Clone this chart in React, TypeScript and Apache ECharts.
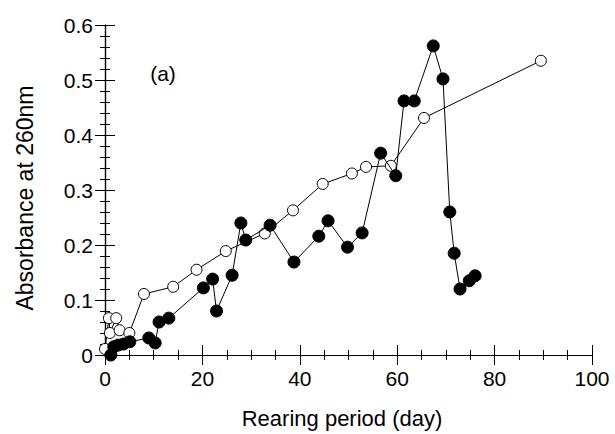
import React, { useEffect, useRef } from "react";
import * as echarts from "echarts";

// Open circles (day, absorbance)
const openDays = [0, 0.8, 1, 2.3, 3, 5, 8, 14, 18.8, 24.8, 32.8, 38.6, 44.7, 50.7, 53.6, 58.7, 65.5, 89.5];
const openVals = [0.011, 0.067, 0.04, 0.067, 0.045, 0.04, 0.111, 0.124, 0.155, 0.189, 0.221, 0.263, 0.311, 0.33, 0.342, 0.344, 0.431, 0.535];

// Filled circles (day, absorbance)
const filledDays = [1.2, 1.8, 2.7, 3.8, 5.1, 9, 10.3, 11.1, 13.1, 20.2, 22.1, 22.9, 26.1, 27.9, 28.9, 33.9, 38.8, 43.9, 45.8, 49.8, 52.8, 56.6, 59.7, 61.4, 63.5, 67.4, 69.4, 70.8, 71.7, 72.9, 74.8, 76];
const filledVals = [0.0, 0.015, 0.018, 0.02, 0.024, 0.031, 0.022, 0.06, 0.067, 0.122, 0.138, 0.08, 0.145, 0.24, 0.209, 0.236, 0.169, 0.216, 0.244, 0.196, 0.222, 0.367, 0.326, 0.462, 0.462, 0.562, 0.502, 0.26, 0.185, 0.12, 0.135, 0.144];

const xTicks = [0, 20, 40, 60, 80, 100];
const yTicks = [0, 0.1, 0.2, 0.3, 0.4, 0.5, 0.6];

const FONT = "'Liberation Sans', Arial, sans-serif";

export default function App() {
  const ref = useRef<HTMLDivElement>(null);
  useEffect(() => {
    if (!ref.current) return;
    const chart = echarts.init(ref.current, null, { renderer: "svg" });
    const axisLine = { show: true, lineStyle: { color: "#000", width: 1.2 } };
    const tick = { show: true, inside: true, length: 10, lineStyle: { color: "#000", width: 1 } };
    const minor = { show: true, length: 5, lineStyle: { color: "#000", width: 1 } };
    chart.setOption({
      animation: false,
      backgroundColor: "#fff",
      grid: { left: 105, right: 23, top: 25, bottom: 79 },
      xAxis: [
        {
          type: "value",
          min: 0,
          max: 100,
          interval: 20,
          position: "bottom",
          axisLine,
          axisTick: tick,
          minorTick: { ...minor, splitNumber: 4 },
          splitLine: { show: false },
          axisLabel: {
            color: "#000",
            fontSize: 21,
            fontFamily: FONT,
            margin: 13,
            formatter: (v: number) => (xTicks.includes(v) ? String(v) : ""),
          },
        },
        {
          type: "value",
          min: 0,
          max: 100,
          interval: 20,
          position: "top",
          axisLine,
          axisTick: tick,
          minorTick: { ...minor, splitNumber: 4 },
          splitLine: { show: false },
          axisLabel: { show: false },
        },
      ],
      yAxis: [
        {
          type: "value",
          min: 0,
          max: 0.6,
          interval: 0.1,
          position: "left",
          axisLine,
          axisTick: tick,
          minorTick: { ...minor, splitNumber: 5 },
          splitLine: { show: false },
          axisLabel: {
            color: "#000",
            fontSize: 21,
            fontFamily: FONT,
            margin: 12,
            formatter: (v: number) => {
              const r = Math.round(v * 10) / 10;
              return yTicks.includes(r) ? (r === 0 ? "0" : r.toFixed(1)) : "";
            },
          },
        },
        {
          type: "value",
          min: 0,
          max: 0.6,
          interval: 0.1,
          position: "right",
          axisLine,
          axisTick: tick,
          minorTick: { ...minor, splitNumber: 5 },
          splitLine: { show: false },
          axisLabel: { show: false },
        },
      ],
      graphic: [
        {
          type: "text",
          x: 163,
          y: 73,
          style: {
            text: "(a)",
            fontSize: 21,
            fontFamily: FONT,
            fill: "#000",
            textAlign: "center",
            textVerticalAlign: "middle",
          },
        },
        {
          type: "text",
          x: 342,
          y: 418,
          style: {
            text: "Rearing period (day)",
            fontSize: 22,
            fontFamily: FONT,
            fill: "#000",
            textAlign: "center",
            textVerticalAlign: "middle",
          },
        },
        {
          type: "text",
          x: 25,
          y: 198,
          rotation: Math.PI / 2,
          style: {
            text: "Absorbance at 260nm",
            fontSize: 23,
            fontFamily: FONT,
            fill: "#000",
            textAlign: "center",
            textVerticalAlign: "middle",
          },
        },
      ],
      series: [
        {
          type: "line",
          xAxisIndex: 0,
          yAxisIndex: 0,
          data: openDays.map((d, i) => [d, openVals[i]]),
          symbol: "circle",
          symbolSize: 11,
          lineStyle: { color: "#000", width: 1 },
          itemStyle: { color: "#fff", borderColor: "#000", borderWidth: 1 },
          z: 2,
        },
        {
          type: "line",
          xAxisIndex: 0,
          yAxisIndex: 0,
          data: filledDays.map((d, i) => [d, filledVals[i]]),
          symbol: "circle",
          symbolSize: 12,
          lineStyle: { color: "#000", width: 1 },
          itemStyle: { color: "#000", borderColor: "#000", borderWidth: 1 },
          z: 3,
        },
      ],
    });
    return () => chart.dispose();
  }, []);
  return <div ref={ref} style={{ width: 615, height: 434, position: "absolute", left: 0, top: 0 }} />;
}
